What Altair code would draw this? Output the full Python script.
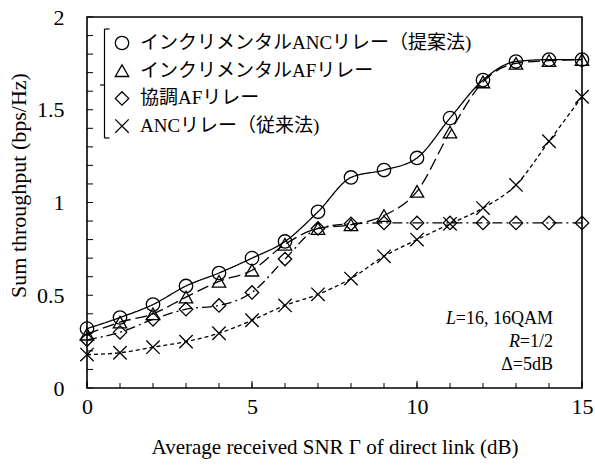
import altair as alt
import pandas as pd

# ---------------- data ----------------
SNR = list(range(16))
SERIES = [
    "インクリメンタルANCリレー（提案法)",
    "インクリメンタルAFリレー",
    "協調AFリレー",
    "ANCリレー（従来法)",
]
INC_ANC = [0.32, 0.38, 0.45, 0.55, 0.62, 0.70, 0.79, 0.95, 1.135, 1.175, 1.24, 1.455, 1.66, 1.76, 1.77, 1.77]
INC_AF = [0.29, 0.355, 0.40, 0.49, 0.575, 0.635, 0.775, 0.86, 0.88, 0.93, 1.06, 1.38, 1.65, 1.75, 1.765, 1.77]
COOP_AF = [0.26, 0.30, 0.37, 0.425, 0.445, 0.515, 0.695, 0.86, 0.885, 0.89, 0.89, 0.89, 0.89, 0.89, 0.89, 0.89]
ANC_CONV = [0.18, 0.19, 0.22, 0.25, 0.295, 0.365, 0.445, 0.505, 0.59, 0.71, 0.80, 0.885, 0.97, 1.095, 1.33, 1.57]

X_LABELS = [0, 5, 10, 15]
Y_LABELS = [0, 0.5, 1, 1.5, 2]
Y_MINOR = [0.0, 0.1, 0.2, 0.3, 0.4, 0.5, 0.6, 0.7, 0.8, 0.9, 1.0,
           1.1, 1.2, 1.3, 1.4, 1.5, 1.6, 1.7, 1.8, 1.9, 2.0]
X_MINOR = list(range(16))

X_TITLE = "Average received SNR Γ of direct link (dB)"
Y_TITLE = "Sum throughput (bps/Hz)"
NOTE_ITALIC = ["L", "R"]
NOTE_REST = ["=16, 16QAM", "=1/2"]
NOTE_DELTA = "Δ=5dB"

# ---------------- style ----------------
FONT = "Liberation Serif, Times New Roman, Noto Sans CJK JP"
W, H = 495, 371
SHAPES = ["circle", "triangle-up", "diamond", "M-1,-1L1,1M-1,1L1,-1"]
DASHES = [[1, 0], [12, 5], [10, 4, 2, 4], [4, 3]]

rows = []
for name, vals in zip(SERIES, [INC_ANC, INC_AF, COOP_AF, ANC_CONV]):
    for x, v in zip(SNR, vals):
        rows.append({"snr": x, "thr": v, "series": name, "dash": name})
df = pd.DataFrame(rows)

xscale = alt.Scale(domain=[0, 15], nice=False, zero=False)
yscale = alt.Scale(domain=[0, 2], nice=False)
shape_scale = alt.Scale(domain=SERIES, range=SHAPES)

x_axis = alt.Axis(values=X_LABELS, ticks=False, domain=False, grid=False,
                  labelFont=FONT, labelFontSize=22, labelColor="black",
                  labelPadding=8, labelFlush=False,
                  titleFont=FONT, titleFontSize=21, titleFontWeight="normal",
                  titleColor="black", titlePadding=19)
y_axis = alt.Axis(values=Y_LABELS, format="~g", ticks=False, domain=False,
                  grid=False, labelFont=FONT, labelFontSize=22,
                  labelColor="black", labelPadding=23, labelFlush=False,
                  titleFont=FONT, titleFontSize=22, titleFontWeight="normal",
                  titleColor="black", titlePadding=6, titleY=168)
x_enc = alt.X("snr:Q", scale=xscale, title=X_TITLE, axis=x_axis)
y_enc = alt.Y("thr:Q", scale=yscale, title=Y_TITLE, axis=y_axis)

base = alt.Chart(df)
lines = base.mark_line(color="black", strokeWidth=1.3, interpolate="monotone").encode(
    x=x_enc, y=y_enc,
    strokeDash=alt.StrokeDash("dash:N", scale=alt.Scale(domain=SERIES, range=DASHES),
                              legend=None),
    detail="series:N",
)
points = base.mark_point(filled=False, color="black", strokeWidth=1.3, size=180,
                         opacity=1).encode(
    x=x_enc, y=y_enc,
    shape=alt.Shape("series:N", scale=shape_scale, legend=None),
)

# inward ticks
yticks = alt.Chart(pd.DataFrame({"thr": Y_MINOR})).mark_rule(
    color="black", strokeWidth=1).encode(
    y=y_enc, x=alt.value(0), x2=alt.value(6))
xticks = alt.Chart(pd.DataFrame({"snr": X_MINOR})).mark_rule(
    color="black", strokeWidth=1).encode(
    x=x_enc, y=alt.value(H), y2=alt.value(H - 5))
xticks_major = alt.Chart(pd.DataFrame({"snr": X_LABELS})).mark_rule(
    color="black", strokeWidth=1).encode(
    x=x_enc, y=alt.value(H), y2=alt.value(H - 7))

# legend (symbols + labels, pixel layout) with bracket
ROW0, ROWSTEP = 26.0, 27.7
leg_df = pd.DataFrame({"series": SERIES,
                       "ly": [ROW0 + ROWSTEP * i for i in range(len(SERIES))]})
leg_sym = alt.Chart(leg_df).mark_point(filled=False, color="black", strokeWidth=1.3,
                                       size=180, opacity=1).encode(
    x=alt.value(35), y=alt.Y("ly:Q", scale=None),
    shape=alt.Shape("series:N", scale=shape_scale, legend=None))
leg_txt = alt.Chart(leg_df).mark_text(align="left", baseline="middle", font=FONT,
                                      fontSize=19, color="black").encode(
    x=alt.value(53), y=alt.Y("ly:Q", scale=None), text="series:N")

one = pd.DataFrame({"k": [0]})
br_v = alt.Chart(one).mark_rule(color="black", strokeWidth=1.2).encode(
    x=alt.value(17.5), y=alt.value(12), y2=alt.value(121))
br_h = [alt.Chart(one).mark_rule(color="black", strokeWidth=1.2).encode(
    x=alt.value(a), x2=alt.value(b), y=alt.value(c))
    for a, b, c in [(17.5, 22.5, 12), (17.5, 22.5, 121), (13, 17.5, 68)]]

# annotation
notes = []
for i, (it, rest) in enumerate(zip(NOTE_ITALIC, NOTE_REST)):
    yb = 307 + 23 * i
    notes.append(alt.Chart(one).mark_text(
        text=rest, align="right", baseline="alphabetic", font=FONT, fontSize=18,
        color="black").encode(x=alt.value(466), y=alt.value(yb)))
    off = 97 if i == 0 else 33
    notes.append(alt.Chart(one).mark_text(
        text=it, align="right", baseline="alphabetic", font=FONT, fontSize=18,
        fontStyle="italic", color="black").encode(x=alt.value(466 - off), y=alt.value(yb)))
notes.append(alt.Chart(one).mark_text(
    text=NOTE_DELTA, align="right", baseline="alphabetic", font=FONT, fontSize=18,
    color="black").encode(x=alt.value(466), y=alt.value(353)))

chart = alt.layer(lines, points, yticks, xticks, xticks_major,
                  leg_sym, leg_txt, br_v, *br_h, *notes).properties(
    width=W, height=H,
    background="white",
    autosize=alt.AutoSizeParams(type="none"),
    padding={"left": 87, "top": 17, "right": 13, "bottom": 79},
).configure_view(stroke="black", strokeWidth=1.6)

chart.save("out.html", embed_options={"renderer": "svg", "actions": False})
